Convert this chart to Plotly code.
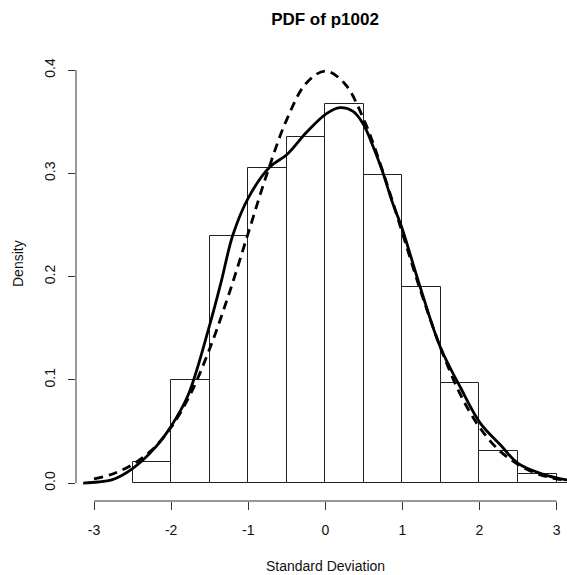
import plotly.graph_objects as go

# ---- data ----
bin_left = [-2.5, -2.0, -1.5, -1.0, -0.5, 0.0, 0.5, 1.0, 1.5, 2.0, 2.5, 3.0]
bin_width = 0.5
bin_density = [0.020, 0.100, 0.239, 0.305, 0.335, 0.367, 0.298, 0.190, 0.097, 0.031, 0.009, 0.0025]

kde_x = [-3.14, -2.95, -2.77, -2.50, -2.21, -2.00, -1.78, -1.50, -1.35, -1.20, -1.00,
         -0.72, -0.50, -0.24, 0.02, 0.19, 0.36, 0.49, 0.62, 0.75, 0.86, 0.99, 1.23,
         1.49, 1.75, 2.01, 2.27, 2.50, 2.79, 3.13, 3.25]
kde_y = [0.000, 0.001, 0.003, 0.014, 0.034, 0.055, 0.085, 0.153, 0.195, 0.240, 0.276,
         0.306, 0.318, 0.340, 0.358, 0.3635, 0.360, 0.348, 0.326, 0.300, 0.274, 0.248, 0.190,
         0.132, 0.093, 0.058, 0.037, 0.019, 0.0094, 0.003, 0.002]

norm_x = [-3.0, -2.75, -2.5, -2.25, -2.0, -1.75, -1.5, -1.25, -1.0, -0.75, -0.5, -0.25, 0.0,
          0.25, 0.5, 0.75, 1.0, 1.25, 1.5, 1.75, 2.0, 2.25, 2.5, 2.75, 3.0, 3.25]
norm_y = [0.004, 0.009, 0.018, 0.032, 0.054, 0.086, 0.130, 0.183, 0.242, 0.301, 0.352, 0.387, 0.399,
          0.387, 0.352, 0.301, 0.242, 0.183, 0.130, 0.086, 0.054, 0.032, 0.018, 0.009, 0.004, 0.002]

x_ticks = [-3, -2, -1, 0, 1, 2, 3]
x_tick_text = ["-3", "-2", "-1", "0", "1", "2", "3"]
y_ticks = [0.0, 0.1, 0.2, 0.3, 0.4]
y_tick_text = ["0.0", "0.1", "0.2", "0.3", "0.4"]

title_text = "PDF of p1002"
x_title = "Standard Deviation"
y_title = "Density"

FONT = "Liberation Sans, Arial, sans-serif"

fig = go.Figure()
fig.add_trace(go.Bar(
    x=[b + bin_width / 2 for b in bin_left], y=bin_density, width=bin_width,
    marker=dict(color="white", line=dict(color="#222", width=1)),
    showlegend=False, hoverinfo="skip"))
fig.add_trace(go.Scatter(
    x=norm_x, y=norm_y, mode="lines",
    line=dict(color="black", width=2.8, dash="9px,6px", shape="spline", smoothing=1.0),
    showlegend=False))
fig.add_trace(go.Scatter(
    x=kde_x, y=kde_y, mode="lines",
    line=dict(color="black", width=2.8, shape="spline", smoothing=1.0),
    showlegend=False))

W, H = 567, 575
ml, mr, mt, mb = 76, 0, 50, 74
plot_h = H - mt - mb

fig.update_layout(
    width=W, height=H,
    margin=dict(l=ml, r=mr, t=mt, b=mb),
    paper_bgcolor="white", plot_bgcolor="white",
    font=dict(family=FONT, size=14, color="#111"),
    bargap=0,
    title=dict(text="<b>" + title_text + "</b>", x=325 / W, xanchor="center",
               y=1 - 19 / H, yanchor="middle", font=dict(size=17, color="black")),
    xaxis=dict(range=[-3.2335, 3.135], tickvals=x_ticks, ticktext=x_tick_text,
               ticks="outside", ticklen=8,
               tickwidth=1, tickcolor="#333", showline=False, showgrid=False,
               zeroline=False, ticklabelstandoff=8),
    yaxis=dict(range=[-0.0174, 0.4194], tickvals=y_ticks, ticktext=y_tick_text,
               tickangle=-90, ticks="outside", ticklen=7, tickwidth=1, tickcolor="#333",
               showline=False, showgrid=False, zeroline=False, ticklabelstandoff=7),
    shapes=[
        dict(type="line", xref="x", yref="paper", x0=-3, x1=3, y0=0, y1=0,
             line=dict(color="#333", width=1)),
        dict(type="line", xref="paper", yref="y", x0=0, x1=0, y0=0, y1=0.4,
             line=dict(color="#333", width=1)),
    ],
    annotations=[
        dict(text=x_title, xref="paper", yref="paper", x=(325 - ml) / (W - ml - mr), y=0,
             yshift=-65, xanchor="center", yanchor="middle", showarrow=False,
             font=dict(size=14, color="#111")),
        dict(text=y_title, xref="paper", yref="paper", x=0, y=(H - mb - 264) / plot_h,
             xshift=-58, textangle=-90, xanchor="center", yanchor="middle", showarrow=False,
             font=dict(size=14, color="#111")),
    ],
)

fig.write_html("out.html")
